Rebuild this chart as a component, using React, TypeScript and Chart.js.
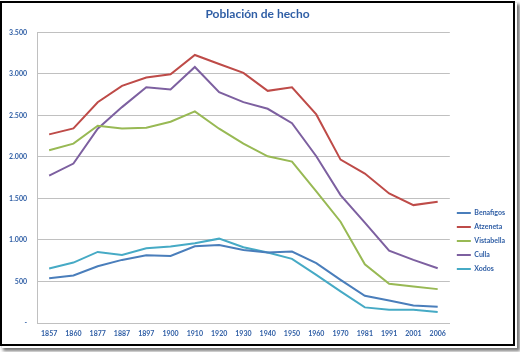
import React, { useEffect, useRef } from 'react';
import { Chart, registerables } from 'chart.js';

Chart.register(...registerables);

const years = ['1857', '1860', '1877', '1887', '1897', '1900', '1910', '1920', '1930', '1940', '1950', '1960', '1970', '1981', '1991', '2001', '2006'];
const seriesNames = ['Benafigos', 'Atzeneta', 'Vistabella', 'Culla', 'Xodos'];
const benafigos = [540, 572, 684, 760, 816, 808, 924, 940, 880, 848, 860, 720, 520, 328, 272, 212, 196];
const atzeneta = [2272, 2344, 2659, 2856, 2956, 2995, 3228, 3120, 3012, 2796, 2839, 2512, 1968, 1800, 1560, 1420, 1459];
const vistabella = [2080, 2160, 2376, 2344, 2352, 2424, 2548, 2340, 2160, 2008, 1944, 1584, 1220, 708, 472, 440, 408];
const culla = [1776, 1920, 2340, 2600, 2839, 2812, 3084, 2780, 2660, 2580, 2407, 2008, 1540, 1208, 872, 760, 660];
const xodos = [656, 728, 856, 820, 900, 920, 960, 1016, 912, 848, 772, 580, 380, 188, 160, 160, 132];
const yTickLabels = ['-', '500', '1.000', '1.500', '2.000', '2.500', '3.000', '3.500'];
const yMax = 3500;
const yStep = 500;

const seriesColors = ['#4A7EBB', '#BE4B48', '#98B954', '#7D60A0', '#46AAC5'];
const TEXT = '#2F5EA5';
const GRID = '#C0C0C0';
const FONT = 'Lato, "Open Sans", sans-serif';

export default function App() {
  const ref = useRef<HTMLCanvasElement>(null);

  useEffect(() => {
    document.body.style.margin = '0';
    const values = [benafigos, atzeneta, vistabella, culla, xodos];
    const chart = new Chart(ref.current as HTMLCanvasElement, {
      type: 'line',
      data: {
        labels: years,
        datasets: seriesNames.map((name, i) => ({
          label: name,
          data: values[i],
          borderColor: seriesColors[i],
          backgroundColor: seriesColors[i],
          borderWidth: 2,
          pointRadius: 0,
          tension: 0,
          fill: false,
        })),
      },
      options: {
        responsive: false,
        animation: false,
        layout: { padding: { left: 0, right: 5, top: 0, bottom: 0 } },
        plugins: {
          tooltip: { enabled: false },
          title: {
            display: true,
            text: 'Población de hecho',
            color: TEXT,
            font: { family: FONT, size: 12, weight: 'bold' },
            padding: { top: 7, bottom: 11 },
          },
          legend: {
            position: 'right',
            title: { display: true, text: '', font: { size: 1 }, padding: { top: 0, bottom: 129 } },
            labels: {
              usePointStyle: true,
              pointStyle: 'line',
              pointStyleWidth: 14,
              padding: 7,
              color: TEXT,
              font: { family: FONT, size: 7, weight: 'bold' },
            },
          },
        },
        scales: {
          x: {
            offset: true,
            grid: { display: false, drawTicks: false, offset: true },
            border: { display: true, color: GRID, width: 1 },
            ticks: {
              color: TEXT,
              font: { family: FONT, size: 7, weight: 'bold' },
              padding: 7,
              maxRotation: 0,
              autoSkip: false,
            },
            afterFit: (s: any) => { s.height = 29; },
          },
          y: {
            min: 0,
            max: yMax,
            ticks: {
              stepSize: yStep,
              color: TEXT,
              font: { family: FONT, size: 7, weight: 'bold' },
              padding: 10,
              callback: (v: any) => yTickLabels[Math.round(Number(v) / yStep)],
            },
            grid: { color: GRID, drawTicks: false, lineWidth: 1 },
            border: { display: true, color: GRID, width: 1 },
            afterFit: (s: any) => { s.width = 37; },
          },
        },
      },
    } as any);
    return () => chart.destroy();
  }, []);

  return (
    <div style={{ position: 'fixed', left: 0, top: 0, width: 520, height: 352, background: '#fff', overflow: 'hidden' }}>
      <div
        style={{
          position: 'absolute',
          left: 0,
          top: 1,
          width: 515,
          height: 345,
          boxSizing: 'border-box',
          border: '2px solid #000',
          boxShadow: '2px 2px 0 0 #fff, 4px 4px 3px 1px #777',
          background: '#fff',
        }}
      />
      <canvas ref={ref} width={520} height={352} style={{ position: 'absolute', left: 0, top: 0, width: 520, height: 352 }} />
    </div>
  );
}
